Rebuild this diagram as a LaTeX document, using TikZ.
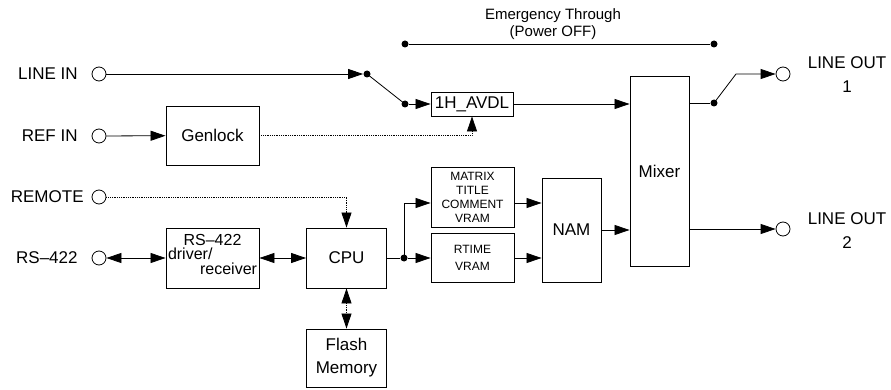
\documentclass[tikz,border=0pt]{standalone}
\usepackage{fontspec}
\setmainfont{Liberation Sans}
\usepackage{tikz}
\usetikzlibrary{arrows.meta}
\tikzset{
	blockstyle/.style={rectangle,draw=black,line width=0.9pt,fill=white,inner sep=0pt,align=center,font=\fontsize{17}{20}\selectfont},
	vramstyle/.style={blockstyle,font=\fontsize{12}{14}\selectfont},
	portstyle/.style={circle,draw=black,fill=white,minimum size=14pt,inner sep=0pt},
	dotstyle/.style={circle,fill=black,minimum size=7pt,inner sep=0pt},
	textstyle/.style={inner sep=0pt,align=center,font=\fontsize{17}{24}\selectfont},
	sigstyle/.style={-{Triangle[length=15pt,width=10pt]}},
	bistyle/.style={{Triangle[length=15pt,width=10pt]}-{Triangle[length=15pt,width=10pt]}},
	ctrlstyle/.style={densely dotted,-{Triangle[length=15pt,width=10pt]}},
	ctrlbistyle/.style={densely dotted,{Triangle[length=15pt,width=10pt]}-{Triangle[length=15pt,width=10pt]}}
}
\begin{document}
\begin{tikzpicture}[x=1pt,y=-1pt,line width=0.8pt]
	\useasboundingbox (0,0) rectangle (891,390);
	\node[portstyle] (linein) at (99,74) {};
	\node[portstyle] (refin) at (99,136) {};
	\node[portstyle] (remote) at (99,197) {};
	\node[portstyle] (rsport) at (99,258) {};
	\node[portstyle] (lineout1) at (783,74) {};
	\node[portstyle] (lineout2) at (783,229) {};
	\node[textstyle,anchor=east] (lineinlabel) at (78,74) {LINE IN};
	\node[textstyle,anchor=east] (refinlabel) at (78,136) {REF IN};
	\node[textstyle,anchor=east] (remotelabel) at (84,197) {REMOTE};
	\node[textstyle,anchor=east] (rsportlabel) at (78,258) {RS–422};
	\node[textstyle] (lineout1label) at (847,75) {LINE OUT\\1};
	\node[textstyle] (lineout2label) at (847,231) {LINE OUT\\2};
	\node[textstyle,font=\fontsize{15}{17}\selectfont] (emlabel) at (553,24) {Emergency Through\\(Power OFF)};
	\node[blockstyle,minimum width=93pt,minimum height=59pt] (genlock) at (212.5,135.5) {Genlock};
	\node[blockstyle,minimum width=93pt,minimum height=60pt] (rsdriver) at (212.5,258) {};
	\node[textstyle,font=\fontsize{16}{14.5}\selectfont] (rsdrivertext) at (212.5,254) {RS–422\\\makebox[89pt][l]{driver/}\\\makebox[89pt][r]{receiver}};
	\node[blockstyle,minimum width=80pt,minimum height=60pt] (cpu) at (346.5,258) {CPU};
	\node[blockstyle,minimum width=80pt,minimum height=58pt,font=\fontsize{17}{23}\selectfont] (flash) at (346.5,358) {Flash\\Memory};
	\node[blockstyle,minimum width=82pt,minimum height=24pt] (avdl) at (472,104) {1H\_AVDL};
	\node[vramstyle,minimum width=83pt,minimum height=60pt] (matrix) at (472.5,197) {MATRIX\\TITLE\\COMMENT\\VRAM};
	\node[vramstyle,minimum width=83pt,minimum height=49pt,font=\fontsize{12}{16.5}\selectfont] (rtime) at (472.5,258) {RTIME\\VRAM};
	\node[blockstyle,minimum width=59pt,minimum height=104pt] (nam) at (571.5,230) {NAM};
	\node[blockstyle,minimum width=59pt,minimum height=190pt] (mixer) at (659.5,171) {Mixer};
	\node[dotstyle] (swin) at (367,74) {};
	\node[dotstyle] (swthru) at (405,104) {};
	\node[dotstyle] (emleft) at (405,44) {};
	\node[dotstyle] (emright) at (714,44) {};
	\node[dotstyle] (swout) at (714,103) {};
	\coordinate (swbend) at (736,74);
	\node[dotstyle] (cpusplit) at (404,258) {};
	\draw[sigstyle] (linein) -- (swin);
	\draw (swin.center) -- (swthru.center);
	\draw[sigstyle] (swthru) -- (avdl);
	\draw (emleft) -- (emright);
	\draw[sigstyle] (refin) -- (genlock);
	\draw[ctrlstyle] (genlock) -| (avdl);
	\draw[sigstyle] (avdl) -- (avdl -| mixer.west);
	\draw (swout -| mixer.east) -- (swout);
	\draw[sigstyle] (swout.center) -- (swbend) -- (lineout1);
	\draw[ctrlstyle] (remote) -| (cpu);
	\draw[bistyle] (rsport) -- (rsdriver);
	\draw[bistyle] (rsdriver) -- (cpu);
	\draw[ctrlbistyle] (cpu) -- (flash);
	\draw (cpu) -- (cpusplit);
	\draw[sigstyle] (cpusplit) -- (rtime);
	\draw[sigstyle] (cpusplit.center) |- ([yshift=-6pt]matrix.west);
	\draw[sigstyle] ([yshift=-6pt]matrix.east) -- ([yshift=-6pt]matrix.east -| nam.west);
	\draw[sigstyle] (rtime) -- (rtime -| nam.west);
	\draw[sigstyle] (nam) -- (nam -| mixer.west);
	\draw[sigstyle] (lineout2 -| mixer.east) -- (lineout2);
\end{tikzpicture}
\end{document}
